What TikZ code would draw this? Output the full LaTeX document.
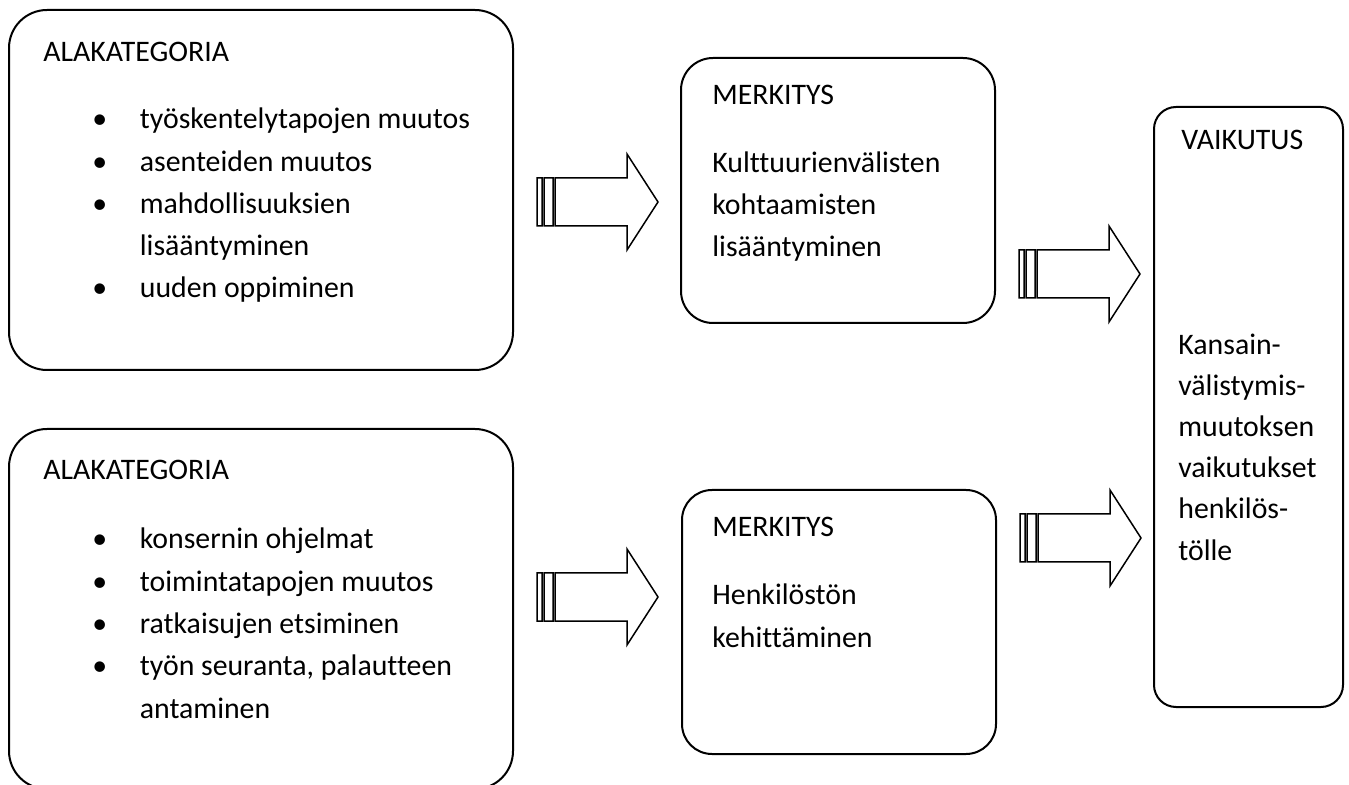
\documentclass[tikz,border=0pt]{standalone}
\usepackage{fontspec}
\setmainfont[Ligatures=NoCommon]{Carlito}
\newcommand{\puce}{\makebox[23.75pt][l]{•}}
\begin{document}
\begin{tikzpicture}[x=0.5pt,y=-0.5pt]
 % les styles
  \tikzstyle{cadre}=[rectangle,draw,line width=1pt,inner sep=0pt]
  \tikzstyle{texte}=[anchor=base west,inner sep=0pt,align=left,
    font=\fontsize{14.9}{21.15}\selectfont]
  \tikzstyle{fleche}=[draw,line width=0.75pt,line join=miter]
  \useasboundingbox (0,0) rectangle (1349,785);
 % les cadres
  \node[cadre,rounded corners=19pt,minimum width=252pt,minimum height=180pt] (A1) at (261,190) {};
  \node[cadre,rounded corners=19pt,minimum width=252pt,minimum height=180pt] (A2) at (261,609) {};
  \node[cadre,rounded corners=16pt,minimum width=157pt,minimum height=132.5pt] (M1) at (838,190.5) {};
  \node[cadre,rounded corners=15pt,minimum width=157pt,minimum height=132pt] (M2) at (839,622) {};
  \node[cadre,rounded corners=11pt,minimum width=94.5pt,minimum height=300pt] (V) at (1248.5,407) {};
 % les textes (ligne de base de la derniere ligne)
  \node[texte] (ala1) at (43,62) {ALAKATEGORIA};
  \node[texte] (lista1) at (92,298) {\puce työskentelytapojen muutos\\
    \puce asenteiden muutos\\ \puce mahdollisuuksien\\
    \hspace*{23.75pt}lisääntyminen\\ \puce uuden oppiminen};
  \node[texte] (ala2) at (43,480) {ALAKATEGORIA};
  \node[texte] (lista2) at (92,718) {\puce konsernin ohjelmat\\
    \puce toimintatapojen muutos\\ \puce ratkaisujen etsiminen\\
    \puce työn seuranta, palautteen\\ \hspace*{23.75pt}antaminen};
  \node[texte] (merk1) at (712,105) {MERKITYS};
  \node[texte] (kult) at (712,257) {Kulttuurienvälisten\\ kohtaamisten\\ lisääntyminen};
  \node[texte] (merk2) at (712,537) {MERKITYS};
  \node[texte] (henk) at (712,647) {Henkilöstön\\ kehittäminen};
  \node[texte] (vaik) at (1181,150) {VAIKUTUS};
  \node[texte,font=\fontsize{14.9}{20.6}\selectfont] (kans) at (1178,560)
    {Kansain-\\ välistymis-\\ muutoksen\\ vaikutukset\\ henkilös-\\ tölle};
 % les fleches
  \foreach \x/\y in {537/202, 537/597, 1019/274, 1020/538}
    \path[fleche,shift={(\x,\y)}] (0,-24) rectangle (5,24) (7,-24) rectangle (16,24)
      (18,-24) -- (90,-24) -- (90,-48) -- (121,0) -- (90,48) -- (90,24) -- (18,24) -- cycle;
\end{tikzpicture}
\end{document}
